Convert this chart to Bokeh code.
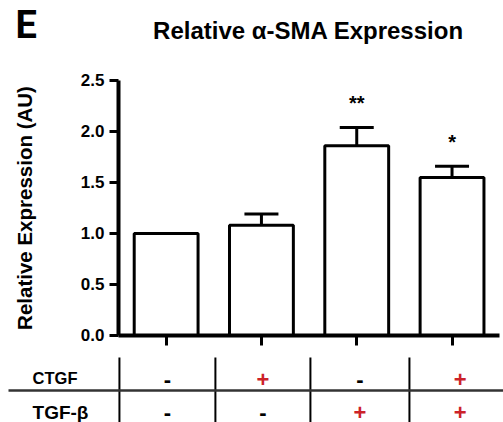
from bokeh.plotting import figure
from bokeh.models import FixedTicker, Whisker, ColumnDataSource, TeeHead, Range1d
from bokeh.embed import file_html
from bokeh.resources import INLINE
from bokeh.core.properties import value

# ---- data ----
groups = [0, 1, 2, 3]
means = [1.00, 1.08, 1.86, 1.55]
errors = [0.0, 0.11, 0.18, 0.11]
stars = ["", "", "**", "*"]
ctgf = ["-", "+", "-", "+"]
tgfb = ["-", "-", "+", "+"]
row_labels = ["CTGF", "TGF-\u03b2"]
y_ticks = [0.0, 0.5, 1.0, 1.5, 2.0, 2.5]
y_tick_labels = ["0.0", "0.5", "1.0", "1.5", "2.0", "2.5"]
title_text = "Relative \u03b1-SMA Expression"
ylabel_text = "Relative Expression (AU)"
panel_letter = "E"

SANS = "Liberation Sans"
RED = "#cc2229"
W, H = 503, 422

# one figure: frame covers the whole canvas, axes drawn at fixed locations
p = figure(width=W, height=H,
           x_range=Range1d(-1.738, 3.54), y_range=Range1d(-0.853, 3.284),
           output_backend="svg", toolbar_location=None, min_border=0)
# pixel-like helper ranges for annotation text / table layout
p.extra_x_ranges = {"px": Range1d(0, W)}
p.extra_y_ranges = {"px": Range1d(H, 0)}
p.outline_line_color = None
p.grid.visible = False
p.background_fill_color = "white"
p.border_fill_color = "white"

# bars
p.vbar(x=groups, top=means, bottom=0, width=0.67, fill_color="white",
       line_color="black", line_width=3)

# error bars (upper only)
upper = [m + e for m, e in zip(means, errors)]
wsrc = ColumnDataSource(dict(
    x=[g for g, e in zip(groups, errors) if e > 0],
    lower=[m for m, e in zip(means, errors) if e > 0],
    upper=[u for u, e in zip(upper, errors) if e > 0],
))
p.add_layout(Whisker(source=wsrc, base="x", lower="lower", upper="upper",
                     line_width=3, line_color="black",
                     upper_head=TeeHead(size=34, line_width=3, line_color="black"),
                     lower_head=None))

# significance stars
ssrc = ColumnDataSource(dict(
    x=[g for g, s in zip(groups, stars) if s],
    y=[u for u, s in zip(upper, stars) if s],
    t=[s for s in stars if s],
))
p.text(x="x", y="y", text="t", source=ssrc, text_align="center", text_baseline="middle",
       y_offset=-24, text_font=value(SANS), text_font_style="bold", text_font_size="20px",
       text_color="black")

# y axis
ya = p.yaxis[0]
ya.fixed_location = -0.5
ya.ticker = FixedTicker(ticks=y_ticks)
ya.major_label_overrides = {t: l for t, l in zip(y_ticks, y_tick_labels)}
ya.bounds = (0, 2.5)
ya.axis_line_width = 4
ya.axis_line_color = "black"
ya.major_tick_line_width = 3
ya.major_tick_line_color = "black"
ya.major_tick_out = 9
ya.major_tick_in = 0
ya.minor_tick_line_color = None
ya.major_label_standoff = 5
ya.major_label_text_font = SANS
ya.major_label_text_font_style = "bold"
ya.major_label_text_font_size = "17px"
ya.major_label_text_color = "black"
ya.axis_label = ylabel_text
ya.axis_label_text_font = SANS
ya.axis_label_text_font_style = "bold"
ya.axis_label_text_font_size = "20.5px"
ya.axis_label_text_color = "black"
ya.axis_label_standoff = 42

# x axis
xa = p.xaxis[0]
xa.fixed_location = 0
xa.ticker = FixedTicker(ticks=groups)
xa.major_label_overrides = {g: "" for g in groups}
xa.bounds = (-0.5, 3.5)
xa.axis_line_width = 4
xa.axis_line_color = "black"
xa.major_tick_line_width = 3
xa.major_tick_line_color = "black"
xa.major_tick_out = 10
xa.major_tick_in = 0
xa.minor_tick_line_color = None
xa.major_label_standoff = 0

# title and panel letter
p.text(x=[308], y=[30], text=[title_text], x_range_name="px", y_range_name="px",
       text_align="center", text_baseline="alphabetic", text_font=value(SANS),
       text_font_style="bold", text_font_size="24px", text_color="black")
p.text(x=[15], y=[24], text=[panel_letter], x_range_name="px", y_range_name="px",
       text_align="left", text_baseline="alphabetic", text_font=value("Roboto"),
       text_font_style="bold", text_font_size="38px", text_color="black")

# ---- treatment table ----
dividers = [-0.49, 0.517, 1.514, 2.553, 3.62]
centers = [(a + b) / 2 for a, b in zip(dividers[:-1], dividers[1:])]

p.segment(x0=dividers[:-1], x1=dividers[:-1], y0=357, y1=H, y_range_name="px",
          line_color="black", line_width=2)
p.segment(x0=[8], x1=[W], y0=390, y1=390, x_range_name="px", y_range_name="px",
          line_color="#333333", line_width=2.5)

p.text(x=[54.5], y=[377], text=[row_labels[0]], x_range_name="px", y_range_name="px",
       text_align="center", text_baseline="alphabetic", text_font=value(SANS),
       text_font_style="bold", text_font_size="16.5px", text_color="black")
p.text(x=[60], y=[422], text=[row_labels[1]], x_range_name="px", y_range_name="px",
       text_align="center", text_baseline="bottom", text_font=value(SANS),
       text_font_style="bold", text_font_size="19px", text_color="black")

row_specs = ((ctgf, 386), (tgfb, 419))
for row, yy in row_specs:
    p.text(x=centers, y=[yy] * 4, text=row, y_range_name="px",
           text_color=[RED if s == "+" else "black" for s in row],
           text_align="center", text_baseline="bottom", text_font=value(SANS),
           text_font_style="bold", text_font_size="22px")

open("out.html", "w").write(file_html(p, INLINE))
